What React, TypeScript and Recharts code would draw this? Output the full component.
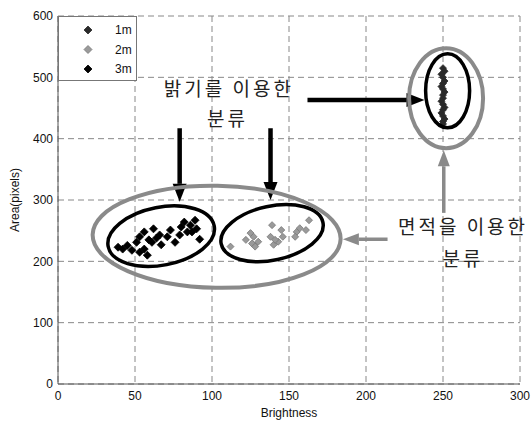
import React from "react";
import {
  ScatterChart,
  Scatter,
  XAxis,
  YAxis,
  CartesianGrid,
  ReferenceDot,
  ReferenceLine,
} from "recharts";

// series values (brightness, area)
const series1m = [
  { x: 250, y: 515 }, { x: 251, y: 510 }, { x: 249, y: 505 }, { x: 250, y: 500 },
  { x: 251, y: 494 }, { x: 250, y: 490 }, { x: 249, y: 485 }, { x: 250, y: 481 },
  { x: 251, y: 476 }, { x: 250, y: 471 }, { x: 250, y: 466 }, { x: 249, y: 461 },
  { x: 250, y: 456 }, { x: 251, y: 451 }, { x: 250, y: 447 }, { x: 249, y: 442 },
  { x: 250, y: 437 }, { x: 251, y: 432 }, { x: 250, y: 428 }, { x: 250, y: 424 },
];

const series2m = [
  { x: 112, y: 224 }, { x: 122, y: 235 }, { x: 125, y: 246 }, { x: 127, y: 240 },
  { x: 126, y: 229 }, { x: 128, y: 224 }, { x: 130, y: 232 }, { x: 139, y: 259 },
  { x: 138, y: 240 }, { x: 140, y: 227 }, { x: 143, y: 232 }, { x: 145, y: 251 },
  { x: 146, y: 240 }, { x: 141, y: 235 }, { x: 155, y: 248 }, { x: 157, y: 254 },
  { x: 161, y: 251 }, { x: 163, y: 267 }, { x: 154, y: 240 },
];

const series3m = [
  { x: 39, y: 223 }, { x: 42, y: 220 }, { x: 45, y: 226 }, { x: 48, y: 218 },
  { x: 51, y: 231 }, { x: 53, y: 240 }, { x: 53, y: 215 }, { x: 56, y: 220 },
  { x: 56, y: 248 }, { x: 58, y: 210 }, { x: 59, y: 235 }, { x: 61, y: 231 },
  { x: 62, y: 253 }, { x: 64, y: 238 }, { x: 66, y: 243 }, { x: 67, y: 227 },
  { x: 71, y: 240 }, { x: 73, y: 251 }, { x: 76, y: 231 }, { x: 79, y: 243 },
  { x: 80, y: 256 }, { x: 82, y: 264 }, { x: 84, y: 248 }, { x: 86, y: 259 },
  { x: 87, y: 248 }, { x: 89, y: 267 }, { x: 90, y: 253 }, { x: 92, y: 236 },
];

const xTicks = [0, 50, 100, 150, 200, 250, 300];
const yTicks = [0, 100, 200, 300, 400, 500, 600];

const seriesNames = ["1m", "2m", "3m"];
const seriesColors = ["#2a2a2a", "#9a9a9a", "#000000"];

// annotation overlays (centres in data units)
const ellipses = [
  { x: 67, y: 241, rx: 54, ry: 29, rot: -11, color: "#000", w: 3.5 },
  { x: 139, y: 246, rx: 52, ry: 27, rot: -12, color: "#000", w: 3.5 },
  { x: 103, y: 240, rx: 124, ry: 51, rot: 1, color: "#8a8a8a", w: 4 },
  { x: 253, y: 478, rx: 22, ry: 37, rot: 0, color: "#000", w: 3.5 },
  { x: 252, y: 466, rx: 37, ry: 50, rot: 0, color: "#8a8a8a", w: 4 },
];

const arrows = [
  { from: { x: 162, y: 463 }, to: { x: 238, y: 463 }, color: "#000", w: 4.5, head: 18, headW: 14 },
  { from: { x: 79, y: 417 }, to: { x: 79, y: 297 }, color: "#000", w: 4.5, head: 18, headW: 14 },
  { from: { x: 138, y: 417 }, to: { x: 138, y: 300 }, color: "#000", w: 4.5, head: 18, headW: 14 },
  { from: { x: 250.5, y: 279 }, to: { x: 250.5, y: 381 }, color: "#8a8a8a", w: 3.5, head: 16, headW: 12 },
  { from: { x: 214, y: 236 }, to: { x: 185, y: 236 }, color: "#8a8a8a", w: 3.5, head: 16, headW: 12 },
];

const notes = [
  { x: 111, y: 484, text: "밝기를 이용한" },
  { x: 110, y: 435, text: "분류" },
  { x: 263, y: 259, text: "면적을 이용한" },
  { x: 263, y: 207, text: "분류" },
];

const axisFont = { fontFamily: "Liberation Sans, Arial, sans-serif", fontSize: 12, fill: "#111" };

function diamond(color: string, half: number, stroke?: string) {
  return (props: any) => {
    const { cx, cy } = props;
    if (cx == null || cy == null) return null;
    return (
      <polygon
        points={`${cx},${cy - half} ${cx + half},${cy} ${cx},${cy + half} ${cx - half},${cy}`}
        fill={color}
        stroke={stroke || color}
        strokeWidth={0.8}
      />
    );
  };
}

function arrowShape(color: string, width: number, head: number, headW: number) {
  return (props: any) => {
    const { x1, y1, x2, y2 } = props;
    const dx = x2 - x1;
    const dy = y2 - y1;
    const len = Math.hypot(dx, dy) || 1;
    const ux = dx / len;
    const uy = dy / len;
    const bx = x2 - ux * head;
    const by = y2 - uy * head;
    const px = (-uy * headW) / 2;
    const py = (ux * headW) / 2;
    return (
      <g>
        <line x1={x1} y1={y1} x2={bx} y2={by} stroke={color} strokeWidth={width} />
        <polygon points={`${x2},${y2} ${bx + px},${by + py} ${bx - px},${by - py}`} fill={color} />
      </g>
    );
  };
}

function ellipseShape(rx: number, ry: number, rot: number, color: string, w: number) {
  return (props: any) => {
    const { cx, cy } = props;
    return (
      <ellipse
        cx={cx}
        cy={cy}
        rx={rx}
        ry={ry}
        transform={`rotate(${rot} ${cx} ${cy})`}
        fill="none"
        stroke={color}
        strokeWidth={w}
      />
    );
  };
}

function noteShape(text: string) {
  return (props: any) => {
    const { cx, cy } = props;
    return (
      <text
        x={cx}
        y={cy}
        textAnchor="middle"
        dominantBaseline="central"
        fontFamily="Noto Sans CJK KR"
        fontSize={19}
        letterSpacing={3}
        fill="#222"
      >
        {text}
      </text>
    );
  };
}

const YLabel = (props: any) => {
  const { viewBox } = props;
  const x = viewBox.x + 11;
  const y = viewBox.y + viewBox.height / 2;
  return (
    <text x={x} y={y} transform={`rotate(-90 ${x} ${y})`} textAnchor="middle" {...axisFont}>
      Area(pixels)
    </text>
  );
};

function LegendBox() {
  return (
    <div
      style={{
        position: "absolute",
        left: 58,
        top: 16,
        width: 79,
        height: 65,
        border: "1px solid #777",
        boxSizing: "border-box",
        background: "#fff",
      }}
    >
      <svg width={77} height={63}>
        {seriesNames.map((name, i) => {
          const cy = 13 + i * 19.5;
          return (
            <g key={name}>
              {diamond(seriesColors[i], 4, i === 1 ? "#777" : undefined)({ cx: 29, cy })}
              <text x={56} y={cy} dominantBaseline="central" {...axisFont}>
                {name}
              </text>
            </g>
          );
        })}
      </svg>
    </div>
  );
}

export default function App() {
  return (
    <div style={{ position: "relative", width: 532, height: 423, background: "#fff" }}>
      <style>{`body { margin: 0; } .recharts-surface { overflow: visible; }`}</style>
      <ScatterChart width={532} height={423} margin={{ top: 16, right: 12, bottom: 0, left: 8 }}>
        <CartesianGrid strokeDasharray="6 4" stroke="#888" />
        <XAxis
          type="number"
          dataKey="x"
          domain={[0, 300]}
          ticks={xTicks}
          height={39}
          tickSize={0}
          tickMargin={7}
          tick={axisFont}
          stroke="#555"
          interval={0}
          label={{ value: "Brightness", position: "insideBottom", offset: 6, ...axisFont }}
        />
        <YAxis
          type="number"
          dataKey="y"
          domain={[0, 600]}
          ticks={yTicks}
          width={50}
          tickSize={0}
          tickMargin={5}
          tick={axisFont}
          stroke="#555"
          interval={0}
          label={<YLabel />}
        />
        <Scatter name="1m" data={series1m} shape={diamond(seriesColors[0], 3.5)} isAnimationActive={false} />
        <Scatter name="2m" data={series2m} shape={diamond(seriesColors[1], 3.5, "#777")} isAnimationActive={false} />
        <Scatter name="3m" data={series3m} shape={diamond(seriesColors[2], 4)} isAnimationActive={false} />
        {ellipses.map((e, i) => (
          <ReferenceDot
            key={`e${i}`}
            x={e.x}
            y={e.y}
            r={1}
            ifOverflow="visible"
            shape={ellipseShape(e.rx, e.ry, e.rot, e.color, e.w)}
          />
        ))}
        {arrows.map((a, i) => (
          <ReferenceLine
            key={`a${i}`}
            segment={[a.from, a.to]}
            ifOverflow="visible"
            shape={arrowShape(a.color, a.w, a.head, a.headW)}
          />
        ))}
        {notes.map((n, i) => (
          <ReferenceDot key={`n${i}`} x={n.x} y={n.y} r={1} ifOverflow="visible" shape={noteShape(n.text)} />
        ))}
      </ScatterChart>
      <LegendBox />
    </div>
  );
}
